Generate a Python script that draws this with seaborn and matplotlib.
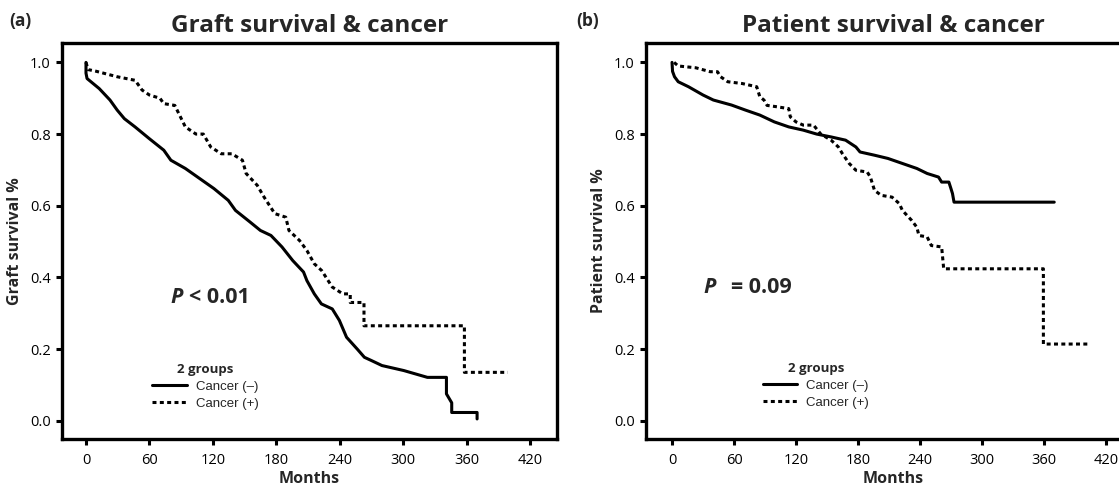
import numpy as np
import pandas as pd
import matplotlib
matplotlib.use("Agg")
import matplotlib.pyplot as plt
import seaborn as sns

# ============================================
# DATA
# ============================================

groups = ["Cancer (–)", "Cancer (+)"]

# (a) graft survival
graft_neg_months = [0, 0, 1, 12.5, 22.7, 29.5, 36.3, 46.4, 60, 73.6, 80.3, 94, 107.5, 121,
                    134.6, 141.4, 155, 165, 175, 185.4, 195.6, 205.8, 209, 216, 222.7, 233,
                    239.7, 246.5, 256.6, 263.4, 270, 280, 300.7, 323, 341, 341, 346, 346,
                    370, 370]
graft_neg_surv = [1.0, 0.97, 0.955, 0.927, 0.895, 0.867, 0.843, 0.82, 0.787, 0.755, 0.727,
                  0.704, 0.676, 0.648, 0.615, 0.587, 0.555, 0.531, 0.517, 0.485, 0.447,
                  0.415, 0.391, 0.354, 0.326, 0.312, 0.28, 0.233, 0.2, 0.177, 0.168, 0.154,
                  0.14, 0.121, 0.121, 0.075, 0.05, 0.023, 0.023, 0.005]

graft_pos_months = [0, 2, 10, 29.5, 46.5, 53, 60, 70, 73.5, 84, 87, 94, 104, 111, 118, 128,
                    138, 148, 151.5, 162, 168.5, 178.6, 189, 192, 202, 209, 216, 223, 233,
                    243, 250, 250, 263, 263, 358, 358, 399]
graft_pos_surv = [1.0, 0.98, 0.975, 0.96, 0.95, 0.923, 0.909, 0.90, 0.885, 0.88, 0.862, 0.82,
                  0.80, 0.80, 0.764, 0.745, 0.745, 0.727, 0.69, 0.657, 0.624, 0.578, 0.568,
                  0.531, 0.503, 0.475, 0.438, 0.419, 0.373, 0.354, 0.354, 0.33, 0.33, 0.265,
                  0.265, 0.135, 0.135]

# (b) patient survival
patient_neg_months = [0, 0.5, 2.4, 6, 16, 30, 40, 57.6, 71, 85, 99, 113, 127, 140, 154, 168,
                      178, 182, 196, 209, 223, 237, 247, 258, 261, 268, 270, 271.5, 273, 370]
patient_neg_surv = [1.0, 0.975, 0.96, 0.946, 0.932, 0.909, 0.895, 0.881, 0.867, 0.853, 0.834,
                    0.82, 0.811, 0.80, 0.792, 0.783, 0.764, 0.75, 0.741, 0.732, 0.718, 0.704,
                    0.69, 0.68, 0.666, 0.666, 0.648, 0.634, 0.61, 0.61]

patient_pos_months = [2, 6, 23, 37, 44, 47, 54, 68, 82, 85, 89, 92, 102, 113, 114.5, 120, 127,
                      137, 144, 154, 161, 165, 171.5, 178, 189, 192, 196, 202.5, 213, 220, 223,
                      232, 237, 239, 247, 251, 261, 263, 359.5, 359.5, 402.6]
patient_pos_surv = [1.0, 0.99, 0.985, 0.974, 0.974, 0.96, 0.946, 0.941, 0.932, 0.904, 0.895,
                    0.88, 0.876, 0.871, 0.848, 0.834, 0.825, 0.825, 0.80, 0.783, 0.764, 0.745,
                    0.718, 0.699, 0.694, 0.68, 0.643, 0.629, 0.624, 0.606, 0.587, 0.559, 0.54,
                    0.517, 0.513, 0.489, 0.485, 0.424, 0.424, 0.214, 0.214]

x_ticks = [0, 60, 120, 180, 240, 300, 360, 420]
y_ticks = [0.0, 0.2, 0.4, 0.6, 0.8, 1.0]

panels = [
    {"tag": "(a)", "title": "Graft survival & cancer", "ylabel": "Graft survival %",
     "p_label": "< 0.01", "p_gap": 17,
     "curves": [(graft_neg_months, graft_neg_surv), (graft_pos_months, graft_pos_surv)]},
    {"tag": "(b)", "title": "Patient survival & cancer", "ylabel": "Patient survival %",
     "p_label": "= 0.09", "p_gap": 27,
     "curves": [(patient_neg_months, patient_neg_surv), (patient_pos_months, patient_pos_surv)]},
]

# ============================================
# STYLE
# ============================================

sns.set_theme(style="white")
plt.rcParams["font.family"] = ["Open Sans", "DejaVu Sans"]

fig = plt.figure(figsize=(11.19, 4.87), dpi=100)

ax_specs = [
    {"rect": [62 / 1119, 48 / 487, 495 / 1119, 396.3 / 487], "xlim": (-22.7, 445.6),
     "p_xy": (80, 0.345), "leg_xy": (54, 0.187), "tag_x": 9 / 1119},
    {"rect": [646 / 1119, 48 / 487, 495 / 1119, 396.3 / 487], "xlim": (-25.2, 454),
     "p_xy": (30, 0.373), "leg_xy": (79, 0.19), "tag_x": 576 / 1119},
]

for panel, spec in zip(panels, ax_specs):
    ax = fig.add_axes(spec["rect"])

    rows = []
    for grp, (months, surv) in zip(groups, panel["curves"]):
        for m, s in zip(months, surv):
            rows.append({"group": grp, "Months": m, "surv": s})
    df = pd.DataFrame(rows)

    sns.lineplot(
        data=df, x="Months", y="surv", hue="group", style="group",
        palette={groups[0]: "black", groups[1]: "black"},
        dashes={groups[0]: "", groups[1]: (1.3, 1.1)},
        estimator=None, sort=False, linewidth=2.2, ax=ax, legend=True
    )

    ax.set_xlim(*spec["xlim"])
    ax.set_ylim(-0.051, 1.055)
    ax.set_xticks(x_ticks)
    ax.set_yticks(y_ticks)
    ax.set_yticklabels([f"{v:.1f}" for v in y_ticks])
    ax.tick_params(axis="both", direction="out", length=4, width=2.2,
                   labelsize=10.5, colors="black", pad=4,
                   bottom=True, left=True)
    ax.tick_params(axis="x", pad=6)
    for sp in ax.spines.values():
        sp.set_linewidth(2.4)
        sp.set_color("black")

    ax.set_xlabel("Months", fontsize=11.5, fontweight="bold", labelpad=2)
    ax.set_ylabel(panel["ylabel"], fontsize=11.5, fontweight="bold", labelpad=5)
    ax.set_title(panel["title"], fontsize=17.5, fontweight="bold", pad=8)

    # p-value annotation
    px, py = spec["p_xy"]
    ax.text(px, py, "P", fontsize=15.5, fontweight="bold", style="italic",
            va="center", ha="left")
    ax.text(px + panel["p_gap"], py, panel["p_label"], fontsize=15.5, fontweight="bold",
            va="center", ha="left")

    # legend
    handles, labels = ax.get_legend_handles_labels()
    leg = ax.legend(
        handles, labels, title="2 groups", frameon=False,
        loc="upper left", bbox_to_anchor=spec["leg_xy"],
        bbox_transform=ax.transData, fontsize=9.5, handlelength=2.6,
        handletextpad=0.7, labelspacing=0.35, borderpad=0.2
    )
    leg.get_title().set_fontweight("bold")
    leg.get_title().set_fontsize(9.5)
    for t in leg.get_texts():
        t.set_family(["Liberation Sans", "DejaVu Sans"])
    for line in leg.get_lines():
        line.set_linewidth(2.2)

    fig.text(spec["tag_x"], 0.957, panel["tag"], fontsize=12.5, fontweight="bold",
             va="center", ha="left")

fig.savefig("out.png", dpi=100)
